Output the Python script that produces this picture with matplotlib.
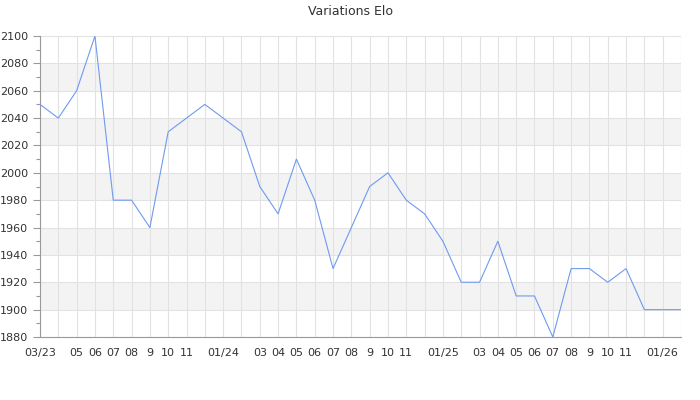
import numpy as np
import matplotlib.pyplot as plt
from matplotlib.ticker import MultipleLocator

months = ['03/23', '04', '05', '06', '07', '08', '9', '10', '11', '12',
          '01/24', '02', '03', '04', '05', '06', '07', '08', '9', '10', '11', '12',
          '01/25', '02', '03', '04', '05', '06', '07', '08', '9', '10', '11', '12',
          '01/26', '02']
elo = [2050, 2040, 2060, 2100, 1980, 1980, 1960, 2030, 2040, 2050,
       2040, 2030, 1990, 1970, 2010, 1980, 1930, 1960, 1990, 2000, 1980, 1970,
       1950, 1920, 1920, 1950, 1910, 1910, 1880, 1930, 1930, 1920, 1930, 1900,
       1900, 1900]
# labels hidden next to the year labels, as in the original
hidden = {'04/23', '12/23', '02/24', '12/24', '02/25', '12/25', '02/26'}

x = np.arange(len(months))
full = []
year = 23
for i, m in enumerate(months):
    if '/' in m:
        year = int(m.split('/')[1])
    full.append('%02d/%d' % (int(m.split('/')[0]), year))
labels = ['' if f in hidden else m for m, f in zip(months, full)]

fig = plt.figure(figsize=(7, 4), dpi=100)
ax = fig.add_axes([40/700, 63/400, 641/700, 301/400])

for lo in range(1900, 2100, 40):
    ax.axhspan(lo, lo + 20, color='#f3f3f3', zorder=0, lw=0)

ax.plot(x, elo, color='#6f9af0', lw=0.8, zorder=3)

ax.set_xlim(0, len(months) - 1)
ax.set_ylim(1880, 2100)
ax.yaxis.set_major_locator(MultipleLocator(20))
ax.yaxis.set_minor_locator(MultipleLocator(10))
ax.set_xticks(x)
ax.set_xticklabels(labels)
ax.grid(True, which='major', color='#e2e2e2', lw=0.8, zorder=1)
ax.set_axisbelow(True)

for s in ['top', 'right']:
    ax.spines[s].set_visible(False)
for s in ['left', 'bottom']:
    ax.spines[s].set_color('#999999')
ax.tick_params(axis='x', length=0, labelsize=8, colors='#333333', pad=8)
ax.tick_params(axis='y', which='major', length=5, labelsize=8, colors='#333333', width=0.8)
ax.tick_params(axis='y', which='minor', length=3, color='#999999', width=0.8)
ax.tick_params(axis='y', which='major', color='#999999')

fig.suptitle('Variations Elo', y=0.988, fontsize=9, color='#333333')
fig.savefig('out.png')
